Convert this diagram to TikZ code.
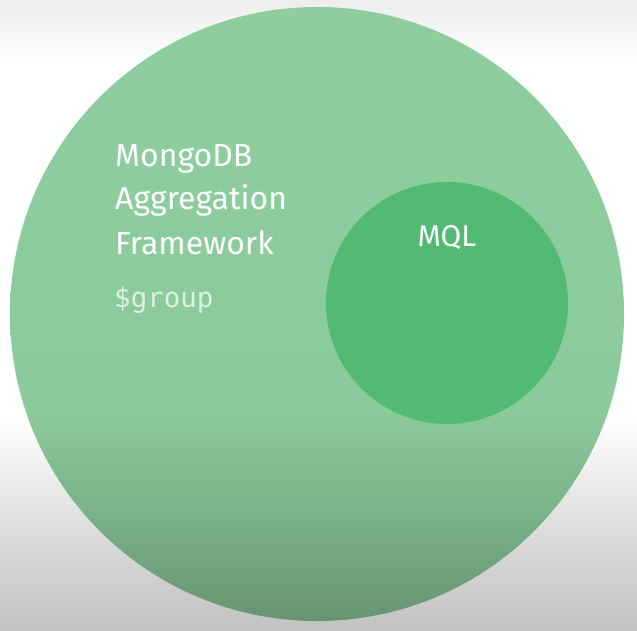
\documentclass[tikz,border=0pt]{standalone}
\usepackage{fontspec}
\setmainfont{Fira Sans}
\newfontfamily\codefont{DejaVu Sans Mono}
\usepackage{xcolor}
\usepackage{tikz}
\usetikzlibrary{positioning}
\definecolor{outergreen}{HTML}{8ECE9E}
\definecolor{innergreen}{HTML}{53BA74}
\definecolor{codecol}{HTML}{DDF0E1}
\pgfdeclareverticalshading{pageshade}{100bp}{%
  color(0bp)=(black!24); color(25bp)=(black!24); color(32bp)=(black!15);
  color(42bp)=(white); color(70bp)=(white); color(75bp)=(black!7); color(100bp)=(black!7)}
\pgfdeclareverticalshading{outershade}{100bp}{%
  color(0bp)=(outergreen!62!black!95); color(25bp)=(outergreen!72!black); color(33bp)=(outergreen!85!black);
  color(42bp)=(outergreen!98!black); color(75bp)=(outergreen); color(100bp)=(outergreen)}

\begin{document}
\begin{tikzpicture}[
   x=1pt, y=-1pt,
   disc/.style = {circle, draw=none, inner sep=0pt},
   outerdisc/.style = {disc, minimum size=614pt, shading=outershade},
   innerdisc/.style = {disc, minimum size=242pt, fill=innergreen},
   title/.style = {text=white, align=left, inner sep=0pt,
                   font=\fontsize{32}{44}\selectfont},
   code/.style = {text=codecol, inner sep=0pt, font=\codefont\fontsize{27.5}{30}\selectfont}]
  \useasboundingbox (0,0) rectangle (637,631);
  \fill[shading=pageshade] (0,0) rectangle (637,631);

  \node[outerdisc] (aggfw) at (317,314) {};
  \node[innerdisc] (mql) at (447,303) {};

  % base anchor of a multi-line node sits on its last line
  \node[title, anchor=base west] (aggname) at (115,254)
       {MongoDB\\Aggregation\\Framework};
  \node[code, anchor=base west] (groupop) at (114,307) {\$group};
  \node[title, anchor=base, font=\fontsize{30}{36}\selectfont] (mqlname) at (447,247) {MQL};
\end{tikzpicture}
\end{document}
